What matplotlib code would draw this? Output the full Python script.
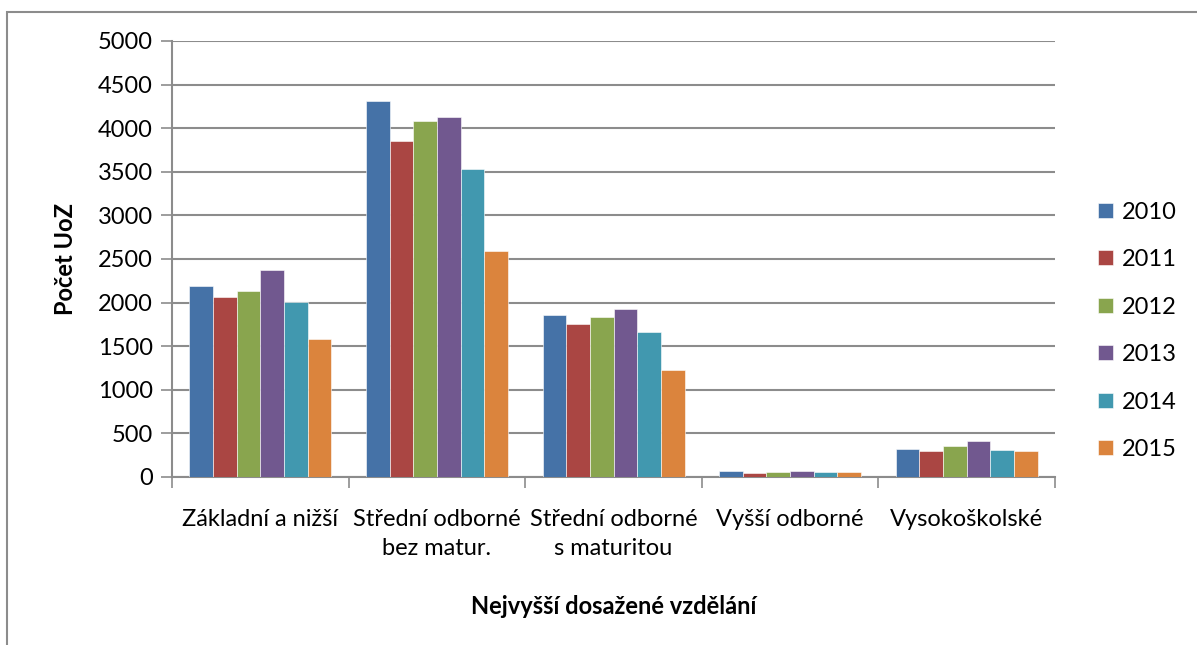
import matplotlib.pyplot as plt
import matplotlib.patches as mpatches
import numpy as np

plt.rcParams['font.family'] = ['Lato', 'DejaVu Sans']

categories = ['Základní a nižší', 'Střední odborné\nbez matur.', 'Střední odborné\ns maturitou',
              'Vyšší odborné', 'Vysokoškolské']
years = ['2010', '2011', '2012', '2013', '2014', '2015']
values = {
    '2010': [2190, 4315, 1855, 65, 318],
    '2011': [2060, 3855, 1755, 50, 303],
    '2012': [2127, 4082, 1840, 62, 360],
    '2013': [2372, 4128, 1924, 73, 418],
    '2014': [2008, 3528, 1657, 54, 314],
    '2015': [1577, 2590, 1228, 62, 295],
}
colors = ['#4572a7', '#aa4643', '#89a54e', '#71588f', '#4198af', '#db843d']
fs = 17

fig = plt.figure(figsize=(11.97, 6.45), dpi=100)
ax = fig.add_axes([0.1437, 0.2605, 0.7377, 0.6760])

# outer chart frame
fig.add_artist(mpatches.Rectangle((7 / 1197, -0.1), 1.2, 0.1 + (645 - 12) / 645,
                                  transform=fig.transFigure, fill=False,
                                  edgecolor='#8c8c8c', linewidth=1.5))

n = len(years)
width = 0.134
ind = np.arange(len(categories))
for i, (year, color) in enumerate(zip(years, colors)):
    offs = (i - (n - 1) / 2) * width
    ax.bar(ind + offs, values[year], width, color=color, label=year, zorder=3,
           edgecolor='white', linewidth=0.4)

ax.set_xlim(-0.5, len(categories) - 0.5)
ax.set_ylim(0, 5000)
ax.set_yticks(np.arange(0, 5001, 500))
ax.yaxis.grid(True, color='#8c8c8c', linewidth=1.5, zorder=0)
ax.tick_params(axis='y', length=8, width=1.2, color='#8c8c8c', labelsize=fs, pad=6)

ax.set_xticks(np.arange(-0.5, len(categories), 1.0))
ax.set_xticklabels([])
ax.set_xticks(ind, minor=True)
ax.set_xticklabels(categories, minor=True, fontsize=fs, linespacing=1.45)
ax.tick_params(axis='x', which='major', length=8, width=1.2, color='#8c8c8c')
ax.tick_params(axis='x', which='minor', length=0, pad=23)

for side in ['top', 'right']:
    ax.spines[side].set_visible(False)
for side in ['left', 'bottom']:
    ax.spines[side].set_color('#8c8c8c')
    ax.spines[side].set_linewidth(1.5)

ax.set_ylabel('Počet UoZ', fontsize=fs, fontweight='bold', labelpad=15)
ax.set_xlabel('Nejvyšší dosažené vzdělání', fontsize=fs, fontweight='bold', labelpad=26)

ax.legend(loc='center left', bbox_to_anchor=(1.025, 0.335), frameon=False, fontsize=fs,
          handlelength=0.6, handleheight=0.6, handletextpad=0.4, labelspacing=1.12)

fig.savefig('out.png', dpi=100)
